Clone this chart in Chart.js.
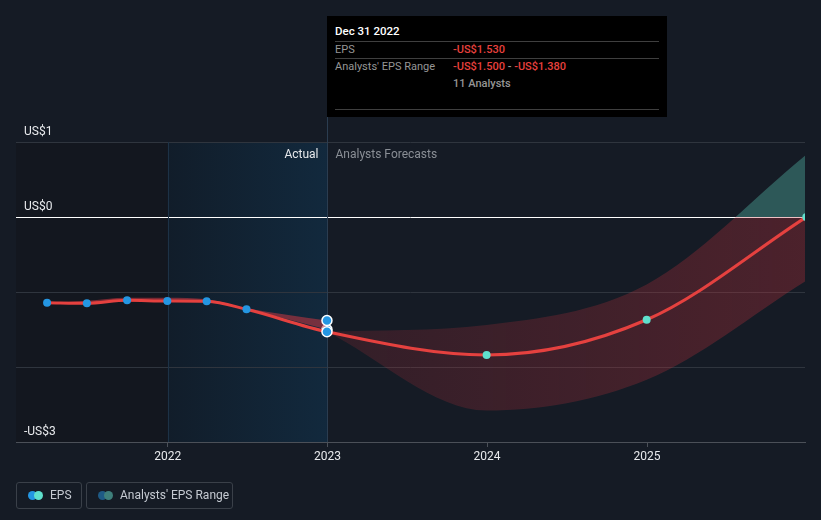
<!DOCTYPE html>
<html>
<head>
<meta charset="utf-8">
<script src="https://cdn.jsdelivr.net/npm/chart.js@4.4.1/dist/chart.umd.min.js"></script>
<style>
  html, body { margin: 0; padding: 0; background: #151b25; }
  body { width: 821px; height: 520px; overflow: hidden; position: relative; font-family: Roboto, "Open Sans", sans-serif; }
  #wrap { position: absolute; left: 0; top: 0; width: 821px; height: 520px; }
  #tip { position: absolute; top: 16px; width: 340px; height: 101px; background: #000; color: #fff; font-size: 11px; }
  #tip .t { position: absolute; left: 8px; top: 8px; font-weight: 500; color: #fff; font-size: 11.5px; }
  #tip .sep { position: absolute; left: 8px; width: 324px; height: 1px; background: #3f3f3f; }
  #tip .lab { position: absolute; left: 8px; color: #969696; }
  #tip .val { position: absolute; left: 126px; color: #e8403d; font-weight: 500; }
  #tip .val span.g { color: #969696; }
  #tip .an { position: absolute; left: 126px; color: #969696; font-weight: 500; }
  .leg { position: absolute; top: 482px; height: 25px; border: 1px solid #3a4049; border-radius: 3px; color: #c5cad2; font-size: 12px; line-height: 25px; box-sizing: content-box; }
  .leg .d { position: absolute; top: 8px; width: 9px; height: 9px; border-radius: 50%; }
  .leg .txt { position: absolute; white-space: nowrap; }
</style>
</head>
<body>
<div id="wrap"><canvas id="c" width="821" height="520"></canvas></div>
<div id="tip">
  <div class="t" id="tipTitle"></div>
  <div class="sep" style="top:25px"></div>
  <div class="lab" style="top:25px;line-height:17px">EPS</div>
  <div class="val" id="tipEps" style="top:25px;line-height:17px"></div>
  <div class="sep" style="top:42px"></div>
  <div class="lab" style="top:42px;line-height:17px">Analysts' EPS Range</div>
  <div class="val" id="tipRange" style="top:42px;line-height:17px"></div>
  <div class="an" id="tipAn" style="top:59px;line-height:17px"></div>
  <div class="sep" style="top:93px"></div>
</div>
<div class="leg" style="left:16px;width:64px">
  <div class="d" style="left:11px;background:#2496e2"></div>
  <div class="d" style="left:17px;background:#5fe0cd"></div>
  <div class="txt" style="left:33px">EPS</div>
</div>
<div class="leg" style="left:86px;width:145px">
  <div class="d" style="left:11px;background:#1e5a85"></div>
  <div class="d" style="left:17px;background:#3e7f7b"></div>
  <div class="txt" style="left:33px">Analysts' EPS Range</div>
</div>
<script>
// ---------- DATA ----------
const epsDates = ['2021-03-31','2021-06-30','2021-09-30','2021-12-31','2022-03-31','2022-06-30','2022-12-31','2023-12-31','2024-12-31','2025-12-31'];
const epsValues = [-1.143,-1.151,-1.111,-1.120,-1.124,-1.231,-1.530,-1.840,-1.370,0.000];
const lastActualDate = '2022-12-31';

const pastRangeDates = ['2021-03-31','2021-06-30','2021-09-30','2021-12-31','2022-03-31','2022-06-30','2022-12-31'];
const pastRangeLow  = [-1.143,-1.151,-1.111,-1.120,-1.124,-1.231,-1.500];
const pastRangeHigh = [-1.140,-1.115,-1.075,-1.075,-1.095,-1.215,-1.380];

const forecastDates = ['2022-12-31','2023-12-31','2024-12-31','2025-12-31'];
const forecastLow  = [-1.530,-2.580,-2.170,-0.850];
const forecastHigh = [-1.530,-1.440,-0.900,0.830];

const analystCount = 11;
const xTickYears = [2022,2023,2024,2025];
const yTickValues = [1,0,-1,-2,-3];
const yTickLabels = ['US$1','US$0','','','-US$3'];
const xMin = '2021-01-19';
const xMax = '2025-12-28';
const shadeStart = '2022-01-01';

// ---------- helpers ----------
const t = s => Date.parse(s + 'T00:00:00Z');
const pts = (dates, vals) => dates.map((d, i) => ({ x: t(d), y: vals[i] }));
const hoverX = t(lastActualDate);
const fmt = v => (v < 0 ? '-' : '') + 'US$' + Math.abs(v).toFixed(3);

// tooltip text from data
const hi = epsDates.indexOf(lastActualDate);
const pi = pastRangeDates.indexOf(lastActualDate);
const dt = new Date(hoverX);
const months = ['Jan','Feb','Mar','Apr','May','Jun','Jul','Aug','Sep','Oct','Nov','Dec'];
document.getElementById('tipTitle').textContent = months[dt.getUTCMonth()] + ' ' + dt.getUTCDate() + ' ' + dt.getUTCFullYear();
document.getElementById('tipEps').textContent = fmt(epsValues[hi]);
document.getElementById('tipRange').innerHTML = fmt(pastRangeLow[pi]) + '<span class="g"> - </span>' + fmt(pastRangeHigh[pi]);
document.getElementById('tipAn').textContent = analystCount + ' Analysts';

function bandFill(ctx) {
  const chart = ctx.chart;
  const area = chart.chartArea;
  if (!area || !chart.scales.y) return 'rgba(200,50,60,0.25)';
  const c = document.createElement('canvas');
  c.width = chart.width; c.height = chart.height;
  const g = c.getContext('2d');
  const y0 = chart.scales.y.getPixelForValue(0);
  const x1 = chart.scales.x.getPixelForValue(t(forecastDates[0]));
  const red = g.createLinearGradient(x1, 0, area.right, 0);
  red.addColorStop(0, 'rgba(200,50,60,0.17)');
  red.addColorStop(1, 'rgba(200,50,60,0.31)');
  g.fillStyle = red;
  g.fillRect(0, y0, c.width, c.height - y0);
  g.fillStyle = 'rgba(70,150,140,0.5)';
  g.fillRect(0, 0, c.width, y0);
  return chart.ctx.createPattern(c, 'no-repeat');
}

const bgPlugin = {
  id: 'bg',
  beforeDraw(chart) {
    const { ctx, chartArea: a, scales: { x } } = chart;
    const xs = x.getPixelForValue(t(shadeStart));
    const xh = x.getPixelForValue(hoverX);
    ctx.save();
    ctx.fillStyle = '#13171f';
    ctx.fillRect(a.left, a.top, xs - a.left, a.bottom - a.top);
    const gr = ctx.createLinearGradient(xs, 0, xh, 0);
    gr.addColorStop(0, '#111d2a');
    gr.addColorStop(1, '#12293d');
    ctx.fillStyle = gr;
    ctx.fillRect(xs, a.top, xh - xs, a.bottom - a.top);
    ctx.restore();
  },
  beforeDatasetsDraw(chart) {
    const { ctx, chartArea: a, scales: { x } } = chart;
    const xs = Math.round(x.getPixelForValue(t(shadeStart))) + 0.5;
    const xh = Math.round(x.getPixelForValue(hoverX)) + 0.5;
    ctx.save();
    ctx.lineWidth = 1;
    ctx.strokeStyle = '#1d3246';
    ctx.beginPath(); ctx.moveTo(xs, a.top); ctx.lineTo(xs, a.bottom); ctx.stroke();
    ctx.strokeStyle = '#2b3d50';
    ctx.beginPath(); ctx.moveTo(xh, 16); ctx.lineTo(xh, a.bottom); ctx.stroke();
    ctx.font = '12px Roboto';
    ctx.textBaseline = 'middle';
    ctx.textAlign = 'right';
    ctx.fillStyle = '#e6e8eb';
    ctx.fillText('Actual', xh - 9, a.top + 13);
    ctx.textAlign = 'left';
    ctx.fillStyle = '#8a8f96';
    ctx.fillText('Analysts Forecasts', xh + 8, a.top + 13);
    ctx.restore();
  },
  afterRender(chart) {
    const xh = Math.round(chart.scales.x.getPixelForValue(hoverX));
    document.getElementById('tip').style.left = xh + 'px';
  }
};

const isHover = c => c.raw && c.raw.x === hoverX;

Chart.defaults.font.family = 'Roboto';

new Chart(document.getElementById('c'), {
  type: 'line',
  data: {
    datasets: [
      {
        label: 'EPS',
        data: pts(epsDates, epsValues),
        borderColor: '#e5413f',
        borderWidth: 3,
        cubicInterpolationMode: 'monotone',
        fill: false,
        pointRadius: c => isHover(c) ? 5 : 4,
        pointBackgroundColor: c => (c.raw && c.raw.x <= hoverX) ? '#2496e2' : '#5fe0cd',
        pointBorderColor: c => isHover(c) ? '#ffffff' : 'rgba(0,0,0,0)',
        pointBorderWidth: c => isHover(c) ? 1.5 : 0,
        order: 0
      },
      {
        label: 'Analysts\u2019 EPS Range high',
        data: pts(forecastDates, forecastHigh),
        borderWidth: 0,
        borderColor: 'rgba(0,0,0,0)',
        backgroundColor: bandFill,
        cubicInterpolationMode: 'monotone',
        pointRadius: 0,
        fill: '+1',
        order: 3
      },
      {
        label: 'Analysts\u2019 EPS Range low',
        data: pts(forecastDates, forecastLow),
        borderWidth: 0,
        borderColor: 'rgba(0,0,0,0)',
        cubicInterpolationMode: 'monotone',
        pointRadius: 0,
        fill: false,
        order: 3
      },
      {
        label: 'Past range high',
        data: pts(pastRangeDates, pastRangeHigh),
        borderWidth: 0,
        borderColor: 'rgba(0,0,0,0)',
        backgroundColor: 'rgba(200,55,65,0.55)',
        cubicInterpolationMode: 'monotone',
        pointRadius: c => isHover(c) ? 5 : 0,
        pointBackgroundColor: '#2496e2',
        pointBorderColor: '#ffffff',
        pointBorderWidth: 1.5,
        fill: '+1',
        order: 2
      },
      {
        label: 'Past range low',
        data: pts(pastRangeDates, pastRangeLow),
        borderWidth: 0,
        borderColor: 'rgba(0,0,0,0)',
        cubicInterpolationMode: 'monotone',
        pointRadius: c => isHover(c) ? 5 : 0,
        pointBackgroundColor: '#2496e2',
        pointBorderColor: '#ffffff',
        pointBorderWidth: 1.5,
        fill: false,
        order: 2
      }
    ]
  },
  options: {
    responsive: false,
    animation: false,
    events: [],
    layout: { padding: { left: 16, right: 16, top: 142, bottom: 38 } },
    plugins: { legend: { display: false }, tooltip: { enabled: false } },
    scales: {
      x: {
        type: 'linear',
        min: t(xMin),
        max: t(xMax),
        afterBuildTicks: s => { s.ticks = xTickYears.map(y => ({ value: Date.UTC(y, 0, 1) })); },
        afterFit: s => { s.height = 40; },
        ticks: {
          autoSkip: false,
          maxRotation: 0,
          padding: 3,
          color: '#e8eaed',
          font: { size: 12 },
          callback: v => String(new Date(v).getUTCFullYear())
        },
        grid: { drawOnChartArea: false, drawTicks: true, tickLength: 5, color: '#4b5058' },
        border: { display: true, color: '#4b5058', width: 1 }
      },
      y: {
        min: -3,
        max: 1,
        afterBuildTicks: s => { s.ticks = yTickValues.map(v => ({ value: v })); },
        afterFit: s => { s.width = 0; },
        ticks: {
          mirror: true,
          padding: 8,
          labelOffset: -10,
          color: '#e8eaed',
          font: { size: 12 },
          callback: v => { const i = yTickValues.indexOf(v); return i >= 0 ? yTickLabels[i] : ''; }
        },
        grid: {
          drawTicks: false,
          color: c => c.tick && c.tick.value === 0 ? '#ffffff' : (c.tick && c.tick.value === -3 ? '#4b5058' : '#2f353e'),
          lineWidth: 1
        },
        border: { display: false }
      }
    }
  },
  plugins: [bgPlugin]
});
</script>
</body>
</html>
